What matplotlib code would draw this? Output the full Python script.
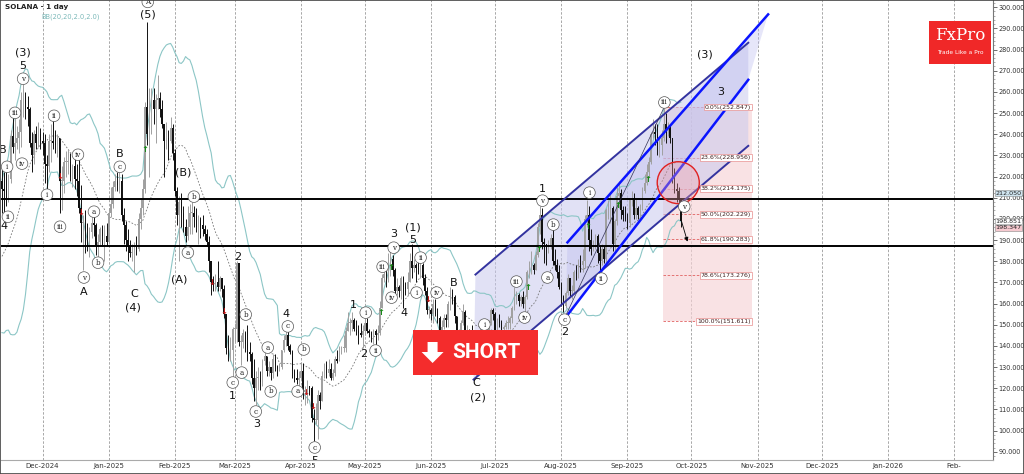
import datetime as dt
import numpy as np
import pandas as pd
import matplotlib
matplotlib.use("Agg")
import matplotlib.pyplot as plt
import matplotlib.dates as mdates
from matplotlib.patches import Rectangle, Polygon, Ellipse

# ---------------- data ----------------
title = "SOLANA - 1 day"
bb_label = "BB(20,20,2.0,2.0)"
start_date = "2024-11-12"

warmup_closes = [165, 174, 169, 174, 177, 178, 180, 176, 166, 167,
                 166, 162, 160, 166, 188, 197, 198, 203, 213, 218]

close_nov = [214, 213, 209, 219, 239, 234, 236, 238, 241, 256, 256, 253, 252, 236, 230, 240, 236, 240, 237]
high_nov = [224, 222, 223, 221, 242, 248, 249, 244, 247, 260, 264, 260, 258, 253, 241, 242, 244, 246, 243]
low_nov = [203, 201, 206, 208, 217, 231, 228, 233, 231, 234, 248, 247, 244, 234, 222, 226, 233, 234, 233]

close_dec = [236, 226, 225, 237, 237, 236, 235, 238, 218, 218, 227, 227, 227, 220, 225, 219,
             218, 205, 198, 198, 192, 191, 194, 198, 197, 187, 189, 195, 192, 192, 189]
high_dec = [241, 240, 230, 240, 245, 248, 242, 240, 238, 225, 229, 232, 233, 231, 226, 229,
            226, 229, 216, 202, 204, 198, 196, 202, 202, 198, 193, 196, 197, 197, 198]
low_dec = [230, 217, 211, 222, 227, 233, 231, 229, 203, 204, 212, 220, 221, 218, 215, 214,
           211, 203, 189, 176, 184, 185, 182, 191, 192, 183, 182, 187, 187, 180, 187]

close_jan = [203, 207, 215, 218, 216, 218, 202, 197, 190, 187, 184, 184, 187, 186, 200, 205,
             214, 253, 240, 253, 256, 252, 256, 257, 252, 245, 237, 238, 237, 243, 231]
high_jan = [205, 215, 218, 221, 222, 222, 221, 205, 199, 195, 190, 188, 189, 192, 203, 210,
            219, 255, 293, 262, 262, 262, 259, 268, 260, 256, 245, 246, 242, 248, 245]
low_jan = [188, 201, 205, 213, 213, 212, 199, 188, 185, 180, 182, 180, 175, 183, 185, 195,
           202, 212, 235, 220, 240, 245, 236, 252, 248, 243, 220, 233, 228, 236, 228]

close_feb = [213, 202, 208, 203, 196, 192, 196, 203, 203, 201, 196, 200, 197, 195,
             193, 189, 180, 170, 168, 170, 168, 172, 167, 155, 139, 136, 138, 148]
high_feb = [233, 215, 211, 212, 206, 200, 206, 207, 208, 206, 205, 202, 201, 202,
            197, 195, 192, 180, 173, 174, 180, 173, 172, 169, 155, 145, 144, 149]
low_feb = [211, 197, 180, 196, 194, 189, 190, 193, 193, 196, 194, 188, 191, 192,
           190, 187, 175, 164, 166, 166, 166, 166, 163, 153, 136, 133, 133, 125]

close_mar = [148, 179, 142, 142, 146, 141, 137, 136, 125, 120, 125, 125, 123, 133, 135, 128,
             130, 127, 134, 130, 129, 130, 138, 143, 145, 140, 137, 128, 125, 124, 125]
high_mar = [151, 180, 179, 145, 148, 147, 150, 142, 137, 134, 128, 130, 128, 134, 137, 135,
            133, 130, 136, 136, 131, 132, 138, 145, 147, 147, 141, 138, 129, 129, 128]
low_mar = [142, 142, 140, 131, 139, 137, 133, 133, 122, 114, 112, 119, 119, 121, 131, 126,
           126, 124, 125, 128, 126, 128, 129, 137, 140, 138, 136, 125, 123, 122, 121]

close_apr = [128, 118, 119, 121, 120, 106, 105, 105, 117, 114, 126, 131, 127, 129, 125,
             127, 134, 133, 139, 139, 139, 147, 151, 151, 152, 148, 147, 146, 145, 147]
high_apr = [132, 132, 121, 124, 121, 121, 110, 113, 119, 118, 128, 132, 133, 134, 132,
            129, 135, 138, 140, 140, 145, 149, 156, 153, 156, 153, 152, 150, 151, 150]
low_apr = [124, 115, 112, 113, 117, 104, 95, 103, 96, 110, 114, 125, 125, 126, 124,
           124, 126, 132, 133, 136, 137, 137, 148, 145, 147, 147, 145, 141, 144, 139]

close_may = [151, 147, 146, 145, 147, 145, 146, 158, 172, 174, 173, 177, 181, 176, 166, 168,
             166, 172, 168, 167, 170, 180, 177, 178, 177, 175, 178, 172, 166, 157, 157]
high_may = [154, 153, 148, 147, 148, 148, 150, 161, 174, 178, 176, 184, 186, 183, 177, 172,
            169, 173, 173, 170, 175, 184, 188, 181, 179, 182, 184, 179, 174, 168, 159]
low_may = [145, 146, 144, 142, 141, 140, 143, 145, 158, 170, 168, 170, 173, 173, 164, 164,
           163, 162, 158, 164, 164, 170, 172, 175, 170, 174, 172, 169, 164, 155, 153]

close_jun = [155, 160, 155, 153, 146, 149, 153, 152, 160, 165, 163, 154, 145, 147, 151,
             156, 146, 146, 145, 141, 134, 134, 145, 145, 145, 140, 143, 151, 157, 155]
high_jun = [158, 162, 162, 158, 154, 152, 155, 155, 161, 168, 167, 164, 154, 148, 152,
            160, 157, 150, 148, 150, 143, 137, 147, 149, 150, 147, 145, 152, 158, 158]
low_jun = [152, 151, 154, 151, 143, 144, 148, 149, 149, 157, 160, 151, 141, 142, 143,
           150, 145, 143, 143, 140, 134, 126, 132, 142, 143, 139, 139, 142, 150, 152]

close_jul = [147, 152, 151, 148, 149, 151, 151, 153, 158, 164, 164, 161, 163, 160, 163, 175,
             177, 178, 176, 183, 196, 202, 189, 188, 186, 187, 191, 180, 178, 175, 168]
high_jul = [156, 153, 155, 152, 150, 152, 154, 154, 159, 168, 166, 165, 164, 166, 164, 176,
            180, 185, 179, 185, 198, 206, 205, 191, 188, 190, 193, 195, 186, 181, 178]
low_jul = [146, 145, 149, 146, 147, 148, 148, 148, 151, 157, 160, 159, 159, 158, 154, 162,
           172, 174, 174, 176, 182, 193, 186, 179, 178, 184, 186, 178, 176, 172, 167]

close_aug = [163, 159, 165, 172, 166, 166, 175, 174, 179, 178, 180, 200, 202, 190, 186, 189,
             192, 184, 180, 186, 181, 204, 205, 205, 188, 199, 211, 212, 204, 202, 200]
high_aug = [170, 164, 166, 174, 172, 169, 176, 178, 181, 183, 186, 202, 209, 206, 195, 190,
            193, 193, 187, 188, 187, 205, 209, 212, 206, 200, 215, 218, 214, 206, 206]
low_aug = [159, 156, 158, 164, 163, 162, 165, 171, 172, 175, 175, 177, 196, 185, 183, 185,
           186, 179, 175, 178, 179, 179, 200, 198, 185, 185, 197, 205, 200, 199, 199]

close_sep = [198, 209, 210, 202, 205, 202, 206, 213, 217, 222, 227, 240, 241,
             240, 235, 235, 238, 245, 242, 243, 238, 222, 214, 213, 209, 198.851]
high_sep = [203, 210, 213, 212, 210, 206, 207, 215, 221, 226, 229, 241, 247,
            245, 245, 238, 242, 253, 250, 246, 245, 238, 224, 217, 215, 210]
low_sep = [195, 196, 206, 200, 200, 200, 201, 204, 212, 216, 220, 226, 238,
           235, 230, 229, 230, 237, 236, 239, 236, 217, 212, 208, 205, 196]

hlines = [209.5, 187.0]
fib_pcts = ["0.0%", "23.6%", "38.2%", "50.0%", "61.8%", "78.6%", "100.0%"]
fib_levels = [252.847, 228.956, 214.175, 202.229, 190.283, 173.276, 151.611]
price_tags = [("212.050", 212.05, "#cfe4ef"), ("198.851", 199.0, "white"), ("198.347", 195.7, "#f6c9cf")]
month_labels = ["Dec-2024", "Jan-2025", "Feb-2025", "Mar-2025", "Apr-2025", "May-2025", "Jun-2025",
                "Jul-2025", "Aug-2025", "Sep-2025", "Oct-2025", "Nov-2025", "Dec-2025", "Jan-2026", "Feb-"]
month_starts = ["2024-12-01", "2025-01-01", "2025-02-01", "2025-03-01", "2025-04-01", "2025-05-01",
                "2025-06-01", "2025-07-01", "2025-08-01", "2025-09-01", "2025-10-01", "2025-11-01",
                "2025-12-01", "2026-01-01", "2026-02-01"]

# wave labels: (text, day offset from start, price, circled)
wave_labels = [
    ("B", 0.3, 232.7, False), ("i", 2.4, 224.6, True), ("4", 0.9, 196.8, False), ("ii", 2.8, 201.0, True),
    ("(3)", 9.9, 278.4, False), ("5", 9.9, 272.0, False), ("v", 9.9, 266.2, True),
    ("iii", 6.1, 250.1, True), ("iv", 9.4, 226.1, True), ("ii", 24.4, 248.7, True),
    ("i", 21.1, 211.4, True), ("iii", 27.2, 196.3, True), ("iv", 35.6, 230.3, True),
    ("a", 43.1, 203.4, True), ("b", 45.0, 179.3, True), ("v", 38.4, 172.3, True), ("A", 38.4, 165.6, False),
    ("B", 55.2, 230.8, False), ("c", 55.2, 224.6, True), ("C", 61.8, 164.7, False), ("(4)", 61.3, 158.1, False),
    ("(5)", 68.3, 296.4, False), ("A", 68.3, 302.5, True),
    ("(B)", 84.7, 221.8, False), ("(A)", 82.9, 171.3, False), ("b", 89.9, 210.5, True), ("a", 87.1, 184.1, True),
    ("2", 110.5, 182.2, False), ("b", 114.2, 154.8, True), ("a", 112.3, 127.4, True),
    ("c", 108.1, 122.7, True), ("1", 108.1, 116.1, False), ("c", 118.9, 109.0, True), ("3", 119.4, 102.9, False),
    ("a", 124.5, 139.2, True), ("b", 125.9, 118.5, True), ("4", 132.9, 155.3, False), ("c", 133.9, 149.2, True),
    ("b", 141.4, 138.3, True), ("a", 138.5, 118.5, True), ("c", 146.5, 92.0, True), ("5", 146.5, 85.6, False),
    ("1", 164.7, 159.5, False), ("i", 170.4, 155.7, True), ("2", 169.4, 136.4, False), ("ii", 175.0, 137.8, True),
    ("iii", 178.3, 177.4, True), ("3", 183.5, 193.0, False), ("v", 183.5, 186.4, True), ("iv", 182.5, 162.8, True),
    ("4", 188.1, 155.7, False), ("(1)", 192.4, 195.9, False), ("5", 192.4, 189.8, False),
    ("ii", 196.1, 181.7, True), ("i", 194.2, 165.2, True), ("iv", 203.6, 165.2, True), ("B", 211.5, 169.9, False),
    ("i", 226.0, 150.1, True), ("C", 222.3, 122.7, False), ("(2)", 222.8, 115.6, False),
    ("iii", 241.0, 170.4, True), ("iv", 244.8, 153.4, True), ("1", 253.2, 214.3, False), ("v", 253.2, 208.6, True),
    ("b", 258.3, 197.3, True), ("a", 255.5, 172.3, True), ("c", 263.5, 152.4, True), ("2", 263.5, 146.6, False),
    ("i", 275.2, 212.4, True), ("ii", 280.8, 171.8, True), ("iii", 310.3, 255.0, True),
    ("3", 336.5, 260.0, False), ("(3)", 329.5, 277.5, False), ("v", 319.6, 205.8, True),
]
sell_marks = [(27.2, 219.9), (37.0, 202.9), (98.3, 169.9), (103.9, 156.3), (142.3, 118.0), (145.6, 111.4), (199.4, 161.9)]
buy_marks = [(66.9, 232.7), (177.4, 155.7), (182.1, 176.9), (246.2, 167.5), (251.3, 185.5),
             (274.7, 196.3), (288.3, 206.2), (302.8, 218.5)]

# channels: (day, price) endpoints
outer_low = [(220.9, 124.1), (349.6, 234.5)]
outer_high = [(221.8, 173.7), (349.6, 283.2)]
inner_low = [(264.0, 153.4), (349.6, 265.7)]
inner_high = [(264.9, 188.9), (358.9, 296.6)]
wave_line = [(263.5, 153.0), (310.3, 253.0)]
fib_days = (309.8, 351.5)
circle_center = (316.8, 217.1)
forecast_arrow = [(318.0, 200.0), (321.5, 188.0)]

# ---------------- build ----------------
closes = np.array(close_nov + close_dec + close_jan + close_feb + close_mar + close_apr +
                  close_may + close_jun + close_jul + close_aug + close_sep, dtype=float)
highs = np.array(high_nov + high_dec + high_jan + high_feb + high_mar + high_apr +
                 high_may + high_jun + high_jul + high_aug + high_sep, dtype=float)
lows = np.array(low_nov + low_dec + low_jan + low_feb + low_mar + low_apr +
                low_may + low_jun + low_jul + low_aug + low_sep, dtype=float)
opens = np.r_[warmup_closes[-1], closes[:-1]]
highs = np.maximum(highs, np.maximum(opens, closes))
lows = np.minimum(lows, np.minimum(opens, closes))
n = len(closes)
dates = pd.date_range(start_date, periods=n, freq="D")
xs = mdates.date2num(dates)
base = xs[0]

allc = pd.Series(list(warmup_closes) + list(closes))
mid = allc.rolling(20).mean().values[len(warmup_closes):]
sd = allc.rolling(20).std(ddof=0).values[len(warmup_closes):]
upper = mid + 2 * sd
lower = mid - 2 * sd

W, H = 1024, 474
fig = plt.figure(figsize=(W / 100, H / 100), dpi=100)
ax = fig.add_axes([0.001, 14 / H, 992.7 / W - 0.001, 460 / H])
ax.set_xlim(base - 0.44, base + 464.1)
ax.set_ylim(86.1, 303.4)

def dx(d):
    return base + d

# month grid
mx = mdates.date2num(pd.to_datetime(month_starts))
for m in mx:
    ax.axvline(m, color="#9a9a9a", lw=0.6, ls=(0, (3, 2)), zorder=0.5)

# fib block
fx0, fx1 = dx(fib_days[0]), dx(fib_days[1])
ax.add_patch(Rectangle((fx0, fib_levels[-1]), fx1 - fx0, fib_levels[0] - fib_levels[-1],
                       fc="#f7d3d6", ec="none", alpha=0.65, zorder=0.6))
for p, lv in zip(fib_pcts, fib_levels):
    ax.plot([fx0, fx1], [lv, lv], color="#e06060", lw=0.6, ls=(0, (3, 2)), zorder=0.7)
    ax.text(dx(350.8), lv, f"{p}({lv:.3f})", fontsize=4.5, ha="right", va="center", color="#402020",
            bbox=dict(boxstyle="square,pad=0.15", fc="white", ec="#e89090", lw=0.5), zorder=6)

# outer channel fill + lines
poly = [(dx(outer_low[0][0]), outer_low[0][1]), (dx(outer_low[1][0]), outer_low[1][1]),
        (dx(outer_high[1][0]), outer_high[1][1]), (dx(outer_high[0][0]), outer_high[0][1])]
ax.add_patch(Polygon(poly, closed=True, fc="#c9c9ee", ec="none", alpha=0.55, zorder=0.8))
for seg in (outer_low, outer_high):
    ax.plot([dx(seg[0][0]), dx(seg[1][0])], [seg[0][1], seg[1][1]], color="#33339f", lw=1.4, zorder=3)
poly2 = [(dx(inner_low[0][0]), inner_low[0][1]), (dx(inner_low[1][0]), inner_low[1][1]),
         (dx(inner_high[1][0]), inner_high[1][1]), (dx(inner_high[0][0]), inner_high[0][1])]
ax.add_patch(Polygon(poly2, closed=True, fc="#b8b8ee", ec="none", alpha=0.35, zorder=0.85))
for seg in (inner_low, inner_high):
    ax.plot([dx(seg[0][0]), dx(seg[1][0])], [seg[0][1], seg[1][1]], color="#0a14ff", lw=1.8, zorder=3)
ax.plot([dx(wave_line[0][0]), dx(wave_line[1][0])], [wave_line[0][1], wave_line[1][1]],
        color="#333355", lw=0.5, zorder=3)

# horizontal lines
for h in hlines:
    ax.axhline(h, color="black", lw=1.4, zorder=2.5)

# bollinger
ax.plot(xs, upper, color="#8cc6c6", lw=0.8, zorder=1.5)
ax.plot(xs, lower, color="#8cc6c6", lw=0.8, zorder=1.5)
ax.plot(xs, mid, color="#777777", lw=0.6, ls=(0, (2, 2)), zorder=1.5)

# candles
up = closes >= opens
for col, mask in (("#a0a0a0", up), ("#111111", ~up)):
    ax.vlines(xs[mask], lows[mask], highs[mask], color=col, lw=0.7, zorder=2)
    ax.bar(xs[mask], np.maximum(np.abs(closes[mask] - opens[mask]), 0.4),
           bottom=np.minimum(opens[mask], closes[mask]), width=0.66, color=col, lw=0, zorder=2.1)

# red circle
ax.add_patch(Ellipse((dx(circle_center[0]), circle_center[1]), 19.7, 19.8, fc="#f4a0a8", alpha=0.35,
                     ec="none", zorder=3.2))
ax.add_patch(Ellipse((dx(circle_center[0]), circle_center[1]), 19.7, 19.8, fc="none",
                     ec="#e02020", lw=1.0, zorder=3.3))

# forecast arrow
ax.annotate("", xy=(dx(forecast_arrow[1][0]), forecast_arrow[1][1]),
            xytext=(dx(forecast_arrow[0][0]), forecast_arrow[0][1]),
            arrowprops=dict(arrowstyle="-|>", color="black", lw=0.6, mutation_scale=6), zorder=4)

# signal marks
for d, p in sell_marks:
    ax.text(dx(d), p, "↓", color="#c01818", fontsize=6, ha="center", va="center", fontweight="bold", zorder=4)
for d, p in buy_marks:
    ax.text(dx(d), p, "↑", color="#168a16", fontsize=6, ha="center", va="center", fontweight="bold", zorder=4)

# wave labels
for t, d, p, circ in wave_labels:
    if circ:
        ax.text(dx(d), p, t, fontsize=5.2, family="DejaVu Serif", ha="center", va="center", color="#222",
                bbox=dict(boxstyle="circle,pad=0.25", fc="white", ec="#555", lw=0.5), zorder=5, clip_on=True)
    else:
        ax.text(dx(d), p, t, fontsize=8, ha="center", va="center", color="#111", zorder=5, clip_on=True)

# title
ax.text(4 / 992.7, 1 - 7 / 460, title, transform=ax.transAxes, fontsize=5.2, fontweight="bold",
        ha="left", va="center", color="#222")
ax.text(40 / 992.7, 1 - 17 / 460, bb_label, transform=ax.transAxes, fontsize=4.8,
        ha="left", va="center", color="#7ab8b8")

# SHORT box
ta = ax.transAxes
def ac(px, py):
    return (px / 992.7, 1 - py / 460)
ax.add_patch(Rectangle(ac(412, 375), 126 / 992.7, 45 / 460, transform=ta, fc="#f42c2c", ec="none", zorder=7))
arrow_pts = [ac(427, 342), ac(437, 342), ac(437, 352), ac(443, 352), ac(432, 363), ac(421, 352), ac(427, 352)]
ax.add_patch(Polygon(arrow_pts, closed=True, transform=ta, fc="white", ec="none", zorder=8))
ax.text(*ac(486, 353), "SHORT", transform=ta, fontsize=15, fontweight="bold", family="Roboto",
        color="white", ha="center", va="center", zorder=8)

# FxPro logo
ax.add_patch(Rectangle(ac(929, 64), 62 / 992.7, 43 / 460, transform=ta, fc="#f02828", ec="none", zorder=7))
ax.text(*ac(960, 36), "FxPro", transform=ta, fontsize=12, family="DejaVu Serif", color="white",
        ha="center", va="center", zorder=8)
ax.text(*ac(960, 53), "Trade Like a Pro", transform=ta, fontsize=4.2, color="white",
        ha="center", va="center", zorder=8)

# axes styling
for s in ("top", "left"):
    ax.spines[s].set_visible(False)
ax.spines["right"].set_color("#777")
ax.spines["bottom"].set_color("#aaa")
ax.yaxis.tick_right()
ax.set_yticks(np.arange(90, 301, 10))
ax.set_yticks(np.arange(88, 303, 2), minor=True)
ax.yaxis.set_major_formatter(matplotlib.ticker.FormatStrFormatter("%.3f"))
ax.tick_params(axis="y", which="major", labelsize=4.7, length=3, width=0.6, color="#555", pad=1,
               labelcolor="#333")
ax.tick_params(axis="y", which="minor", length=1.5, width=0.4, color="#777")
ax.set_xticks(mx)
ax.set_xticklabels(month_labels)
ax.tick_params(axis="x", labelsize=5.0, length=0, pad=2, labelcolor="#333")

yt = ax.get_yaxis_transform()
for txt, p, fc in price_tags:
    ax.text(1.003, p, txt, transform=yt, fontsize=4.6, ha="left", va="center", color="#222",
            bbox=dict(boxstyle="square,pad=0.08", fc=fc, ec="#888", lw=0.4), zorder=9, clip_on=False)

fig.patches.append(Rectangle((0, 0), 1, 1, transform=fig.transFigure, fill=False, ec="#444", lw=1.2))
fig.savefig("out.png", dpi=100)
